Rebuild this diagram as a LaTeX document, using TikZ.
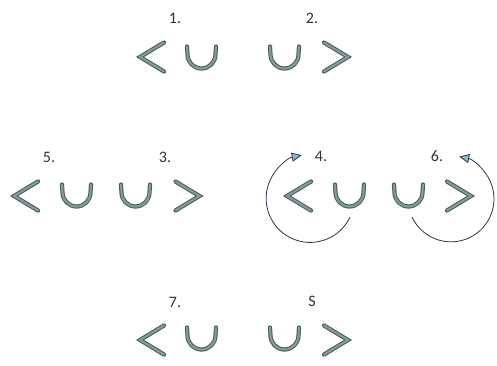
\documentclass[tikz,border=0pt]{standalone}
\usepackage{fontspec}
\setsansfont{Carlito}
\usetikzlibrary{arrows.meta}
\definecolor{Stroke}{HTML}{4F5656}
\definecolor{Core}{HTML}{7E9E9B}
\definecolor{Loop}{HTML}{26384A}
\definecolor{Tip}{HTML}{8BB8CC}

\begin{document}
\begin{tikzpicture}[x=1pt,y=-1pt,
    mark line/.style={line width=1pt,draw=Stroke,double=Core,double distance=2.2pt,
      line cap=round},
    num/.style={font=\sffamily\fontsize{16}{16}\selectfont,text=black!80},
    turn/.style={-{Triangle[length=10pt,width=9pt,fill=Tip]},draw=Loop,thick},
    lt/.pic={\draw[mark line] (12,-14.5) -- (-12,0) -- (12,14.5);},
    gt/.pic={\draw[mark line] (-12,-14.5) -- (12,0) -- (-12,14.5);},
    cup/.pic={\draw[mark line] (-14.5,-11) -- (-14,-3) arc[start angle=180,end angle=0,radius=14] -- (14.5,-11);}
  ]
    \useasboundingbox (0,0) rectangle (497,365);
    % top row
    \node[num] (lab1) at (175,18) {1.};
    \node[num] (lab2) at (312,18) {2.};
    \pic at (152,57) {lt};
    \pic at (201.5,57.5) {cup};
    \pic at (284.5,57.5) {cup};
    \pic at (336,57) {gt};
    % middle row, left
    \node[num] (lab5) at (49,157) {5.};
    \node[num] (lab3) at (165,157) {3.};
    \pic at (26,196) {lt};
    \pic at (76.5,195.5) {cup};
    \pic at (135.5,195.5) {cup};
    \pic at (187.5,196) {gt};
    % middle row, right
    \node[num] (lab4) at (321,156) {4.};
    \node[num] (lab6) at (437,156) {6.};
    \pic at (299,196) {lt};
    \pic at (349.5,195.5) {cup};
    \pic at (408.5,195.5) {cup};
    \pic at (459,196) {gt};
    \coordinate (turnL) at (350,217);
    \coordinate (turnR) at (412,217);
    \draw[turn] (turnL) arc[start angle=25,end angle=259,radius=44];
    \draw[turn] (turnR) arc[start angle=155,end angle=-79,radius=43];
    % bottom row
    \node[num] (lab7) at (175,302) {7.};
    \node[num] (labS) at (312,301) {S};
    \pic at (152,340) {lt};
    \pic at (201.5,338.5) {cup};
    \pic at (284.5,338.5) {cup};
    \pic at (336,340) {gt};
\end{tikzpicture}
\end{document}
